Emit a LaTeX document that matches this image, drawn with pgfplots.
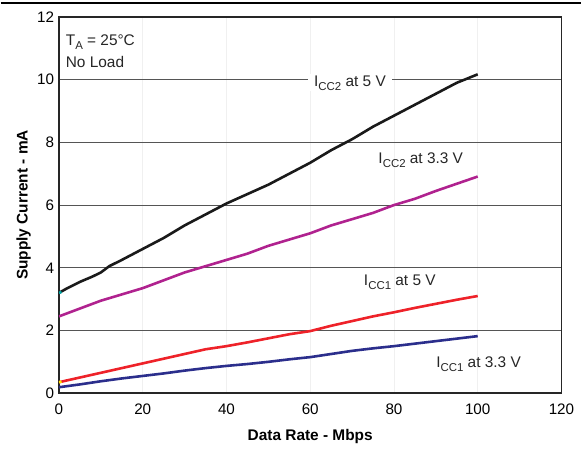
\documentclass[border=0pt]{standalone}
\usepackage{fontspec}
\setmainfont{Liberation Sans}
\usepackage{pgfplots}
\pgfplotsset{compat=1.18}
\definecolor{cblack}{HTML}{1A1A1A}
\definecolor{cpurple}{HTML}{B0228F}
\definecolor{cred}{HTML}{EE2229}
\definecolor{cblue}{HTML}{2B2E8C}
\definecolor{gridd}{HTML}{555555}
\newcommand\sub[1]{\raisebox{-0.5ex}{\fontsize{11.5}{11.5}\selectfont #1}}
\begin{document}
\begin{tikzpicture}[x=1bp,y=1bp]
\path (0,0) rectangle (582,449);
\draw[line width=1.2bp] (0,446) -- (582,446);
\begin{axis}[
  at={(58.5bp,55bp)}, anchor=south west,
  scale only axis, width=503.5bp, height=377bp,
  xmin=0, xmax=120, ymin=0, ymax=12,
  xtick={0,20,...,120}, ytick={0,2,...,12},
  major tick length=0pt,
  axis line style={line width=1.6bp, draw=black!85},
  ymajorgrids, xmajorgrids,
  major grid style={draw=gridd, line width=1bp},
  x grid style={draw=black!6, line width=0.6bp},
  tick label style={font=\fontsize{15.3}{15.3}\selectfont},
  /pgf/number format/assume math mode=true,
  xticklabel style={anchor=base, yshift=-21.5bp},
  yticklabel style={anchor=east, xshift=-1.5bp},
  xlabel={\bfseries Data Rate - Mbps},
  ylabel={\bfseries Supply Current - mA},
  label style={font=\fontsize{15.5}{16}\selectfont},
  xlabel style={at={(axis description cs:0.5,-0.1141)}, anchor=center},
  ylabel style={at={(axis description cs:-0.0705,0.5)}, anchor=center},
  every axis plot/.append style={line width=2.6bp, line join=round},
]
\addplot[cblack] coordinates {(0,3.2)(2,3.35)(5,3.55)(8,3.72)(10,3.85)(12,4.05)(15,4.25)(20,4.6)(25,4.95)(30,5.35)(35,5.7)(40,6.05)(45,6.35)(50,6.65)(55,7.0)(60,7.35)(65,7.75)(70,8.1)(75,8.5)(80,8.85)(85,9.2)(90,9.55)(95,9.9)(100,10.17)};
\addplot[cpurple] coordinates {(0,2.45)(5,2.7)(10,2.95)(15,3.15)(20,3.35)(25,3.6)(30,3.85)(35,4.05)(40,4.25)(45,4.45)(50,4.7)(55,4.9)(60,5.1)(65,5.35)(70,5.55)(75,5.75)(80,6.0)(85,6.2)(90,6.45)(95,6.68)(100,6.91)};
\addplot[cred] coordinates {(0,0.35)(5,0.5)(10,0.65)(15,0.8)(20,0.95)(25,1.1)(30,1.25)(35,1.4)(40,1.5)(45,1.62)(50,1.75)(55,1.88)(60,1.98)(65,2.15)(70,2.3)(75,2.45)(80,2.58)(85,2.72)(90,2.85)(95,2.98)(100,3.1)};
\addplot[cblue] coordinates {(0,0.19)(5,0.28)(10,0.38)(15,0.47)(20,0.55)(25,0.63)(30,0.72)(35,0.8)(40,0.87)(45,0.93)(50,1.0)(55,1.08)(60,1.15)(65,1.25)(70,1.35)(75,1.43)(80,1.5)(85,1.58)(90,1.66)(95,1.74)(100,1.82)};
\addplot[teal!70!cyan, line width=2.6bp] coordinates {(0,3.2)(0.6,3.23)};
\addplot[yellow!90!orange, line width=2.6bp] coordinates {(0,0.35)(0.6,0.37)};
\begin{scope}[every node/.style={font=\fontsize{15.5}{15.5}\selectfont, text=black!85}]
\node[fill=white, inner xsep=6bp, inner ysep=1bp] at (axis cs:69.5,9.9) {I\sub{CC2} at 5 V};
\node at (axis cs:86.4,7.42) {I\sub{CC2} at 3.3 V};
\node at (axis cs:81.4,3.53) {I\sub{CC1} at 5 V};
\node at (axis cs:100.2,0.92) {I\sub{CC1} at 3.3 V};
\node[anchor=west] at (axis cs:0.8,11.2) {T\sub{A} = 25°C};
\node[anchor=west] at (axis cs:0.8,10.55) {No Load};
\end{scope}
\end{axis}
\end{tikzpicture}
\end{document}
